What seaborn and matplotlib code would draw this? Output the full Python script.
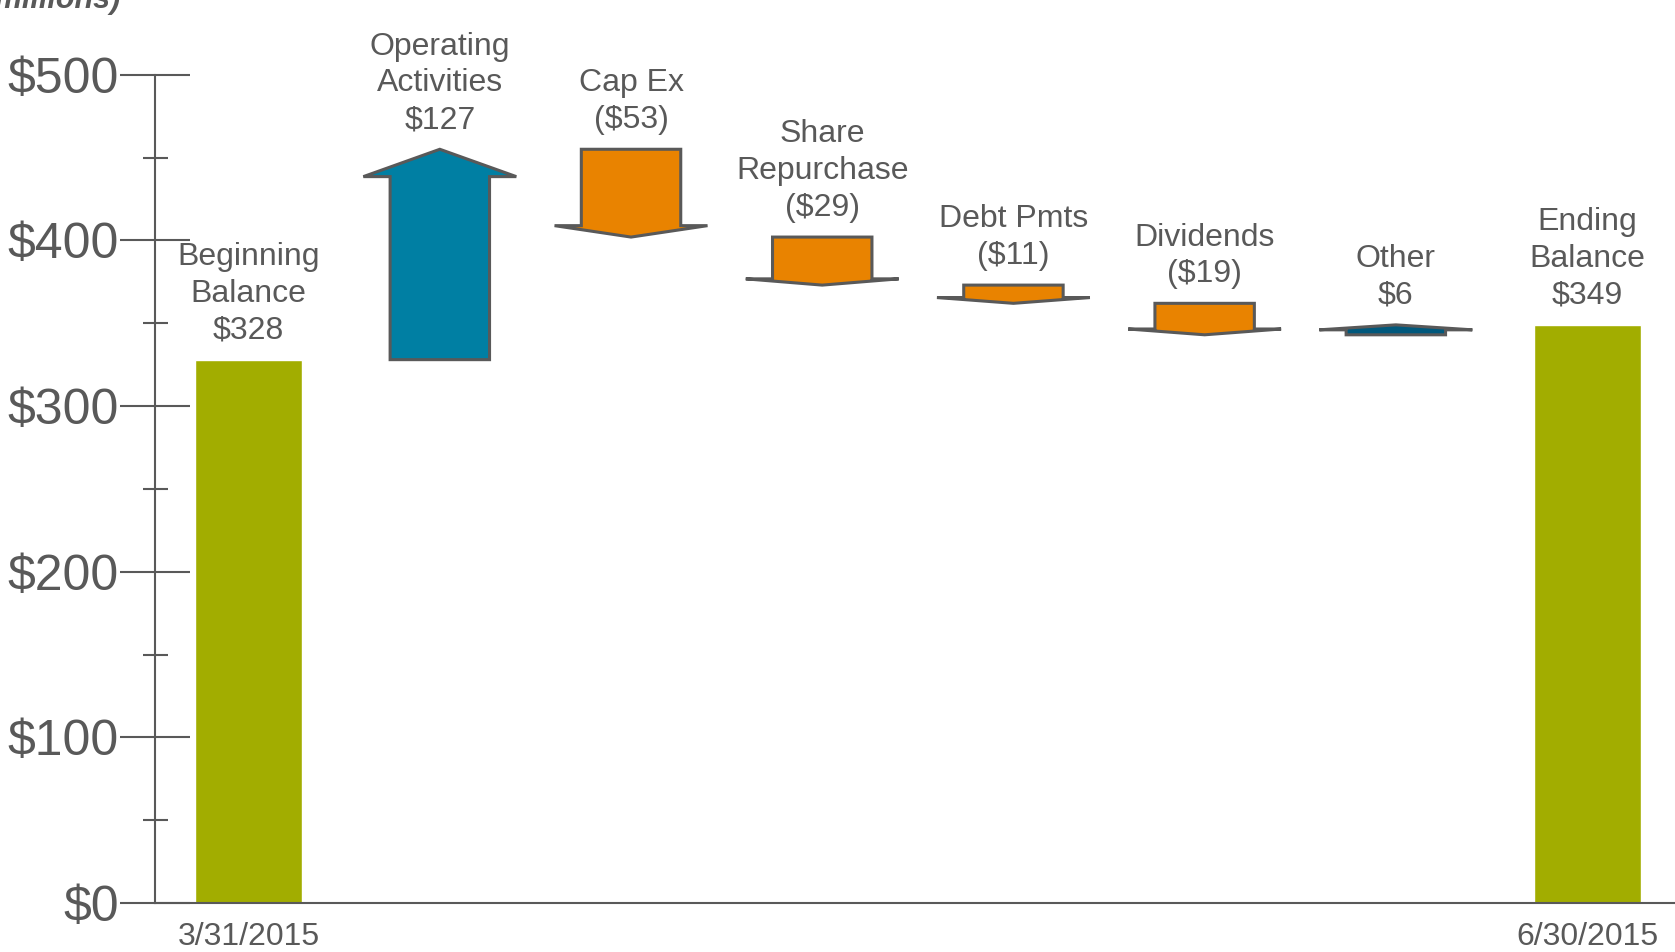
import seaborn as sns
import matplotlib.pyplot as plt
from matplotlib.patches import Polygon
import pandas as pd
import numpy as np

# values in $ millions
categories = ['Beginning\nBalance', 'Operating\nActivities', 'Cap Ex', 'Share\nRepurchase',
              'Debt Pmts', 'Dividends', 'Other', 'Ending\nBalance']
beginning = 328
ending = 349
changes = [127, -53, -29, -11, -19, 6]
date_labels = ['3/31/2015', '6/30/2015']
yticks = [0, 100, 200, 300, 400, 500]
ytick_labels = ['$0', '$100', '$200', '$300', '$400', '$500']

grey = '#595959'
green = '#A2AD00'
arrow_colors = ['#007FA3', '#E98300', '#E98300', '#E98300', '#E98300', '#00587C']

sns.set_style('white')
plt.rcParams['font.family'] = ['Liberation Sans', 'DejaVu Sans']

fig = plt.figure(figsize=(16.75, 9.52), dpi=100)
ax = fig.add_axes([0.0925, 0.0515, 0.9075, 0.87])

df = pd.DataFrame({'step': categories,
                   'value': [beginning] + [np.nan] * len(changes) + [ending]})
sns.barplot(data=df, x='step', y='value', order=categories, color=green,
            width=0.56, saturation=1, ax=ax)

# arrows for the changes
running = beginning
for i, (d, c) in enumerate(zip(changes, arrow_colors), start=1):
    start, end = running, running + d
    L = abs(d)
    h = min(0.5 * L, max(0.13 * L, 3.5))
    s = 1 if d > 0 else -1
    neck = end - s * h
    sw, hw = 0.52, 0.8
    pts = [(i - sw / 2, start), (i - sw / 2, neck), (i - hw / 2, neck), (i, end),
           (i + hw / 2, neck), (i + sw / 2, neck), (i + sw / 2, start)]
    ax.add_patch(Polygon(pts, closed=True, facecolor=c, edgecolor=grey, lw=2.2,
                         joinstyle='miter', zorder=3))
    val = f'${d}' if d > 0 else f'(${-d})'
    ax.annotate(f'{categories[i]}\n{val}', (i, max(start, end)), xytext=(0, 10),
                textcoords='offset points', ha='center', va='bottom', fontsize=23,
                linespacing=1.3, color=grey, annotation_clip=False)
    running = end

for i, v in [(0, beginning), (len(categories) - 1, ending)]:
    ax.annotate(f'{categories[i]}\n${v}', (i, v), xytext=(0, 10),
                textcoords='offset points', ha='center', va='bottom', fontsize=23,
                linespacing=1.3, color=grey, annotation_clip=False)

ax.set_xlim(-0.49, 7.46)
ax.set_ylim(0, 500)
ax.set_xticks([0, len(categories) - 1])
ax.set_xticklabels(date_labels, fontsize=23, color=grey)
ax.tick_params(axis='x', length=0, pad=14)
ax.set_yticks(yticks)
ax.set_yticklabels(ytick_labels, fontsize=36, color=grey)
ax.set_yticks([50, 150, 250, 350, 450], minor=True)
ax.tick_params(axis='y', which='major', direction='inout', length=50, width=1.5,
               color=grey, pad=1, left=True)
ax.tick_params(axis='y', which='minor', direction='inout', length=18, width=1.5,
               color=grey, left=True)
ax.set_xlabel('')
ax.set_ylabel('')
sns.despine(ax=ax)
for sp in ['left', 'bottom']:
    ax.spines[sp].set_color(grey)
    ax.spines[sp].set_linewidth(1.5)

# unit note at the top-left corner, cut off by the slide edge as in the source
fig.text(120 / 1675, 1.0, '(in millions)', ha='right', va='center', fontsize=22,
         fontweight='bold', fontstyle='italic', color=grey)

fig.savefig('out.png', dpi=100)
